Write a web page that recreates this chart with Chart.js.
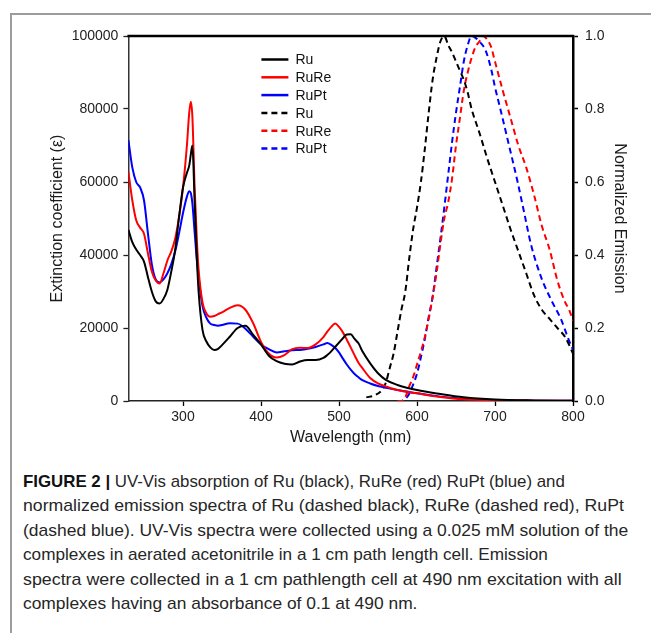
<!DOCTYPE html>
<html>
<head>
  <title>UV-Vis absorption and emission</title>
  <style>
    body { margin: 0; background: #fff; font-family: "Liberation Sans", Arial, sans-serif; }
    #wrap { position: relative; width: 651px; height: 633px; overflow: hidden; }
    /* grey frame round the figure, cut at right and bottom */
    #frame { position: absolute; left: 10px; top: 13px; width: 700px; height: 700px;
             border-left: 2px solid #9c9c9c; border-top: 2px solid #9c9c9c; }
    #chartBox { position: absolute; left: 0; top: 0; }
    #caption { position: absolute; left: 23px; top: 470px; font-size: 17px; line-height: 24.4px; color: #262626; }
    #caption div { white-space: nowrap; width: max-content; transform-origin: left center; }
    #caption b { font-weight: bold; color: #111; }
  </style>
</head>
<body>
<div id="wrap">
  <div id="frame"></div>
  <div id="chartBox"><canvas id="chart" width="651" height="460"></canvas></div>
  <div id="caption">
    <div><b>FIGURE 2 |</b> UV-Vis absorption of Ru (black), RuRe (red) RuPt (blue) and</div>
    <div>normalized emission spectra of Ru (dashed black), RuRe (dashed red), RuPt</div>
    <div>(dashed blue). UV-Vis spectra were collected using a 0.025 mM solution of the</div>
    <div>complexes in aerated acetonitrile in a 1 cm path length cell. Emission</div>
    <div>spectra were collected in a 1 cm pathlength cell at 490 nm excitation with all</div>
    <div>complexes having an absorbance of 0.1 at 490 nm.</div>
  </div>
</div>

<script src="https://cdn.jsdelivr.net/npm/chart.js"></script>
<script>
  // absorption (extinction coefficient) - same wavelength grid for all three
  const absWavelength = [230,235,240,245,250,255,260,265,270,275,280,285,290,295,300,305,308,310,312,315,
    318,320,325,330,335,340,345,350,360,370,380,390,400,410,420,430,440,450,460,470,
    480,485,490,495,500,505,510,515,520,525,530,540,550,560,575,600,630,660,700,750,800];
  const ruAbs = [46900,43500,41500,40000,38200,34000,30000,27300,26700,28000,30500,35500,41500,50500,58500,62500,64500,67500,70000,54000,
    38000,30000,19500,16300,14700,14000,14300,15300,17600,20000,20600,18100,15500,12400,10900,10200,10000,10800,11200,11200,
    11800,12600,13600,14800,16000,17200,18200,18300,17000,15800,13600,10300,7600,5800,4400,3000,1900,1000,400,150,50];
  const ruReAbs = [62800,55000,49500,47500,45800,40500,35500,33000,32200,35000,38500,41000,44500,50500,58500,70000,79000,82000,78000,58000,
    43000,36000,27000,24000,23100,23300,23800,24300,25500,26200,25000,21300,16200,13000,11900,12600,14200,14600,14500,15500,
    17500,19000,20300,21200,20300,18800,16800,14700,12500,10500,9000,6300,4800,4000,3000,2100,1100,450,200,100,50];
  const ruPtAbs = [71500,64000,60000,58500,55000,46000,37500,33300,32500,33300,35000,37500,41000,46000,51500,56000,57500,57000,54200,46000,
    38000,34000,26000,22800,21200,20800,20600,20800,21300,21200,19800,17600,15500,14200,13300,13600,13900,14000,14300,14800,
    15500,15900,15400,14600,13300,11600,10000,8600,7400,6500,5700,4800,4100,3600,3000,2100,1200,600,250,100,50];

  // normalized emission
  const ruEmWavelength = [535,545,555,560,565,570,575,580,585,590,595,600,605,610,615,620,625,630,635,640,
    645,650,655,660,665,670,680,690,700,710,720,730,740,750,760,770,780,790,800];
  const ruEm = [0.01,0.015,0.03,0.05,0.09,0.13,0.19,0.25,0.3,0.39,0.47,0.53,0.6,0.69,0.79,0.88,0.94,0.985,1.0,0.975,
    0.955,0.93,0.905,0.88,0.845,0.8,0.735,0.665,0.6,0.535,0.47,0.41,0.35,0.29,0.25,0.225,0.2,0.175,0.13];
  const ruReEmWavelength = [575,580,585,590,595,600,605,610,615,620,625,630,635,640,645,650,655,660,665,670,
    675,680,685,690,695,700,710,720,730,740,750,760,770,780,790,795,800];
  const ruReEm = [0,0,0.01,0.04,0.065,0.1,0.135,0.175,0.225,0.285,0.35,0.43,0.5,0.545,0.61,0.7,0.775,0.85,0.9,0.94,
    0.97,0.985,1.0,0.99,0.97,0.93,0.85,0.775,0.7,0.64,0.565,0.48,0.415,0.33,0.27,0.25,0.22];
  const ruPtEmWavelength = [575,580,587,590,595,600,605,610,615,620,625,630,635,640,645,650,655,660,665,670,
    675,680,688,695,700,708,718,729,738,746,759,772,785,793,800];
  const ruPtEm = [0,0,0.01,0.02,0.045,0.075,0.12,0.17,0.23,0.285,0.365,0.445,0.53,0.62,0.71,0.79,0.86,0.93,0.975,1.0,
    0.995,0.985,0.96,0.91,0.86,0.79,0.7,0.6,0.51,0.43,0.34,0.277,0.222,0.176,0.14];

  const xTicks = [300, 400, 500, 600, 700, 800];

  function pts(xs, ys) {
    return xs.map((x, i) => ({ x: x, y: ys[i] }));
  }

  const tickFont = { family: '"Liberation Sans", Arial, sans-serif', size: 14 };
  const titleFont = { family: '"Liberation Sans", Arial, sans-serif', size: 16 };

  // top border + legend drawn inside the plot
  const extras = {
    id: 'extras',
    afterDraw(chart) {
      const ctx = chart.ctx, a = chart.chartArea;
      ctx.save();
      ctx.strokeStyle = '#000';
      ctx.lineWidth = 2.5;
      ctx.beginPath();
      ctx.moveTo(a.left - 1, a.top);
      ctx.lineTo(a.right + 1, a.top);
      ctx.stroke();

      ctx.font = '14px "Liberation Sans", Arial, sans-serif';
      ctx.textBaseline = 'middle';
      chart.data.datasets.forEach((ds, i) => {
        const x = a.left + 133;
        const y = a.top + 23.5 + i * 17.8;
        ctx.strokeStyle = ds.borderColor;
        ctx.lineWidth = 2.5;
        ctx.setLineDash(ds.borderDash || []);
        ctx.beginPath();
        ctx.moveTo(x, y);
        ctx.lineTo(x + 27, y);
        ctx.stroke();
        ctx.setLineDash([]);
        ctx.fillStyle = '#111';
        ctx.fillText(ds.label, x + 34, y + 1);
      });
      ctx.restore();
    }
  };

  const solid = { borderWidth: 2, pointRadius: 0, cubicInterpolationMode: 'monotone', fill: false };
  const dashed = Object.assign({}, solid, { borderDash: [6, 4], yAxisID: 'y2' });

  new Chart(document.getElementById('chart'), {
    type: 'line',
    data: {
      datasets: [
        Object.assign({ label: 'Ru', borderColor: '#000000', data: pts(absWavelength, ruAbs) }, solid),
        Object.assign({ label: 'RuRe', borderColor: '#ff0000', data: pts(absWavelength, ruReAbs) }, solid),
        Object.assign({ label: 'RuPt', borderColor: '#0000ff', data: pts(absWavelength, ruPtAbs) }, solid),
        Object.assign({ label: 'Ru', borderColor: '#000000', data: pts(ruEmWavelength, ruEm) }, dashed),
        Object.assign({ label: 'RuRe', borderColor: '#ff0000', data: pts(ruReEmWavelength, ruReEm) }, dashed),
        Object.assign({ label: 'RuPt', borderColor: '#0000ff', data: pts(ruPtEmWavelength, ruPtEm) }, dashed)
      ]
    },
    options: {
      responsive: false,
      animation: false,
      layout: { padding: { left: 48.4, right: 22.4, top: 36, bottom: 12.4 } },
      plugins: { legend: { display: false }, tooltip: { enabled: false } },
      scales: {
        x: {
          type: 'linear', min: 230, max: 800,
          afterBuildTicks: s => { s.ticks = xTicks.map(v => ({ value: v })); },
          afterFit: s => { s.height = 46.6; },
          grid: { drawOnChartArea: false, tickLength: 5, tickColor: '#000', tickWidth: 1.3 },
          border: { color: '#222', width: 1.5 },
          ticks: { font: tickFont, color: '#222', padding: 3, maxRotation: 0 },
          title: { display: true, text: 'Wavelength (nm)', font: titleFont, color: '#1a1a1a', padding: 0 }
        },
        y: {
          position: 'left', min: 0, max: 100000,
          afterFit: s => { s.width = 80; },
          grid: { drawOnChartArea: false, tickLength: 5, tickColor: '#222', tickWidth: 1.3 },
          border: { color: '#333', width: 1.5 },
          ticks: { stepSize: 20000, font: tickFont, color: '#222', padding: 5, callback: v => String(v) },
          title: { display: true, text: 'Extinction coefficient (\u03b5)', font: titleFont, color: '#1a1a1a', padding: 0 }
        },
        y2: {
          position: 'right', min: 0, max: 1,
          afterFit: s => { s.width = 55.6; },
          grid: { drawOnChartArea: false, tickLength: 5, tickColor: '#000', tickWidth: 1.5 },
          border: { color: '#000', width: 2.5 },
          ticks: { stepSize: 0.2, font: tickFont, color: '#222', padding: 7, callback: v => v.toFixed(1) },
          title: { display: true, text: 'Normalized Emission', font: titleFont, color: '#1a1a1a', padding: 0 }
        }
      }
    },
    plugins: [extras]
  });

  // the caption face is condensed: squeeze the full lines to the width they have in the figure,
  // the short last line takes the mean squeeze of the others
  const captionWidths = [542, 601, 605, 525, 599];
  const lines = Array.from(document.querySelectorAll('#caption div'));
  let sum = 0;
  lines.forEach((el, i) => {
    if (i >= captionWidths.length) return;
    const k = captionWidths[i] / el.getBoundingClientRect().width;
    sum += k;
    el.style.transform = 'scaleX(' + k.toFixed(3) + ')';
  });
  lines[lines.length - 1].style.transform = 'scaleX(' + (sum / captionWidths.length).toFixed(3) + ')';
</script>
</body>
</html>
